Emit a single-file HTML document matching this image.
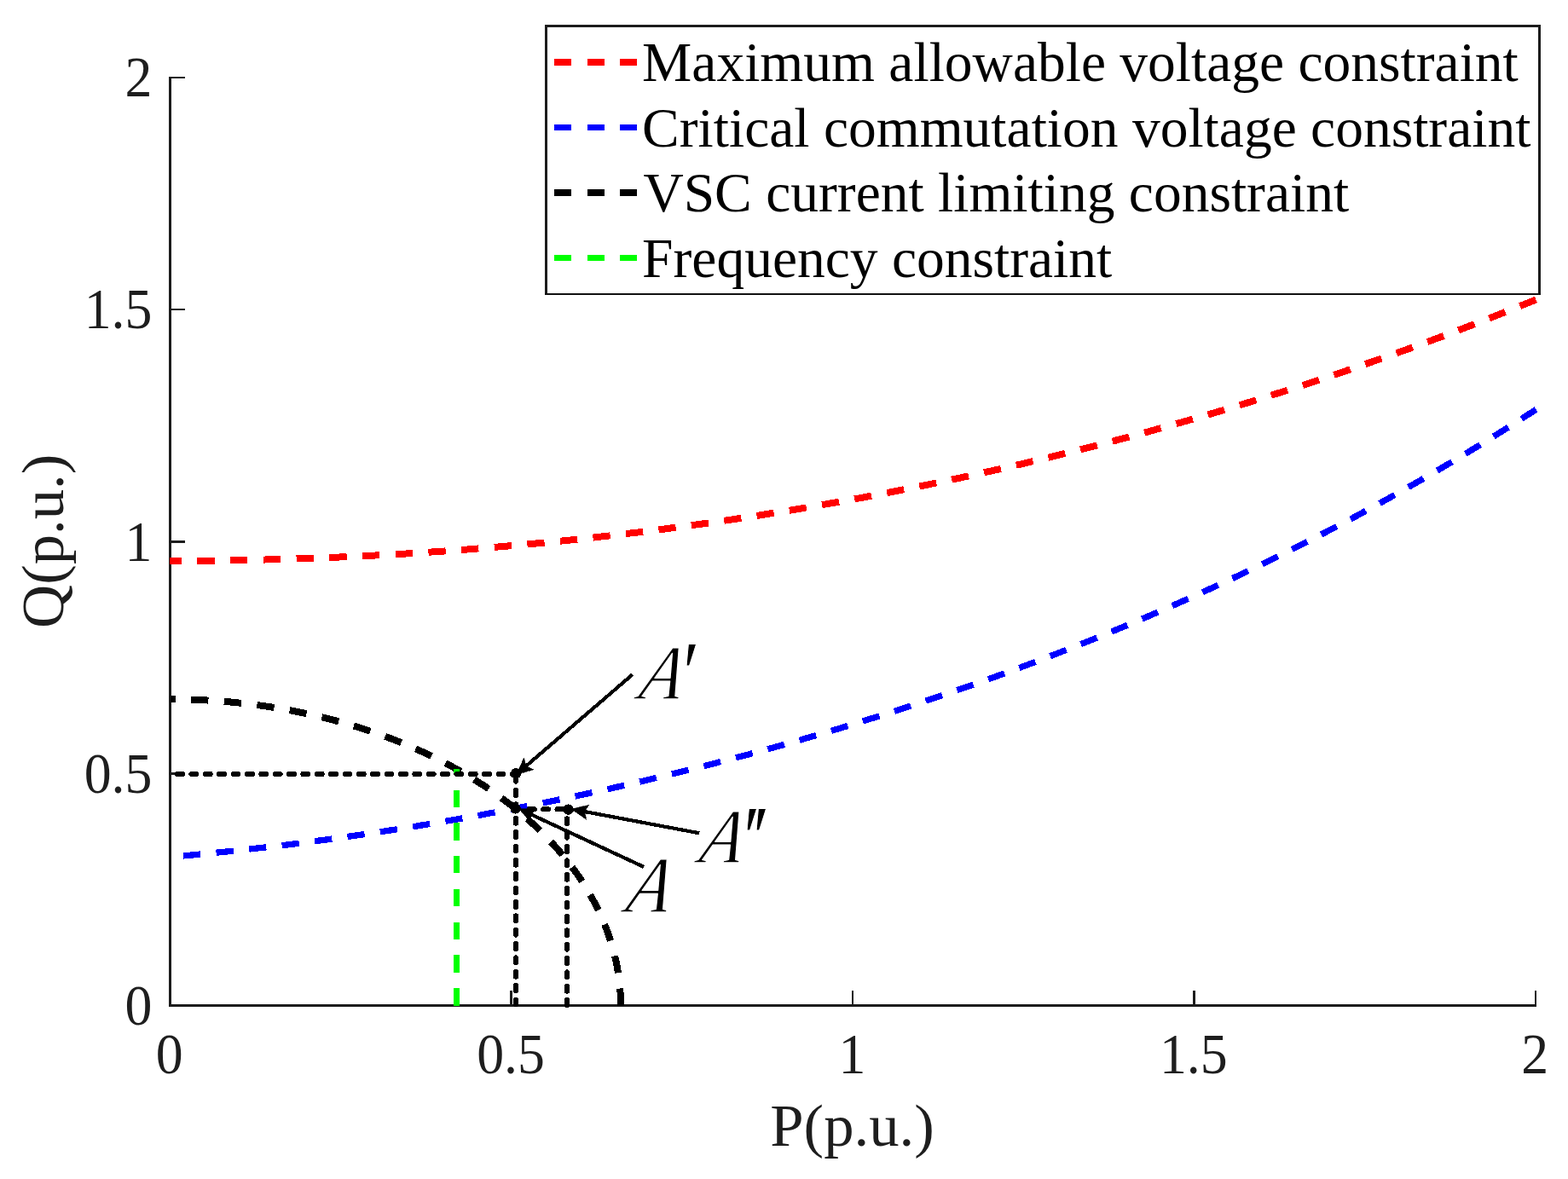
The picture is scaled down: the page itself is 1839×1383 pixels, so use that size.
<!DOCTYPE html>
<html lang="en"><head><meta charset="utf-8"><title>Constraint curves</title>
<style>html,body{margin:0;padding:0;background:#fff}svg{display:block}text{font-family:"Liberation Serif","DejaVu Serif",serif}</style></head><body>
<svg width="1839" height="1383" viewBox="0 0 1839 1383">
<rect width="1839" height="1383" fill="#fff"/>
<g fill="#1c1c1c" shape-rendering="crispEdges">
<rect x="198" y="90" width="3" height="1091"/>
<rect x="198" y="1178" width="1604" height="3"/>
<rect x="201" y="90" width="16" height="2"/>
<rect x="201" y="362" width="16" height="2"/>
<rect x="201" y="634" width="16" height="3"/>
<rect x="201" y="906" width="16" height="3"/>
<rect x="598" y="1162" width="3" height="16"/>
<rect x="999" y="1162" width="2" height="16"/>
<rect x="1399" y="1162" width="3" height="16"/>
<rect x="1800" y="1162" width="2" height="16"/>
</g>
<g fill="none" stroke-width="8.0" stroke-dasharray="20.3 18.46" shape-rendering="crispEdges">
<path d="M198.6,657.9 L206.7,657.9 L214.7,657.9 L222.8,657.8 L230.8,657.8 L238.9,657.7 L246.9,657.6 L255.0,657.5 L263.1,657.4 L271.1,657.3 L279.2,657.2 L287.2,657.0 L295.3,656.9 L303.3,656.7 L311.4,656.5 L319.5,656.3 L327.5,656.1 L335.6,655.8 L343.6,655.6 L351.7,655.3 L359.7,655.0 L367.8,654.8 L375.9,654.5 L383.9,654.1 L392.0,653.8 L400.0,653.4 L408.1,653.1 L416.1,652.7 L424.2,652.3 L432.3,651.9 L440.3,651.5 L448.4,651.1 L456.4,650.6 L464.5,650.1 L472.5,649.7 L480.6,649.2 L488.7,648.7 L496.7,648.1 L504.8,647.6 L512.8,647.1 L520.9,646.5 L528.9,645.9 L537.0,645.3 L545.1,644.7 L553.1,644.1 L561.2,643.4 L569.2,642.8 L577.3,642.1 L585.3,641.4 L593.4,640.7 L601.5,640.0 L609.5,639.3 L617.6,638.6 L625.6,637.8 L633.7,637.0 L641.8,636.3 L649.8,635.4 L657.9,634.6 L665.9,633.8 L674.0,633.0 L682.0,632.1 L690.1,631.2 L698.2,630.3 L706.2,629.4 L714.3,628.5 L722.3,627.6 L730.4,626.6 L738.4,625.6 L746.5,624.7 L754.6,623.7 L762.6,622.6 L770.7,621.6 L778.7,620.6 L786.8,619.5 L794.8,618.4 L802.9,617.3 L811.0,616.2 L819.0,615.1 L827.1,614.0 L835.1,612.8 L843.2,611.7 L851.2,610.5 L859.3,609.3 L867.4,608.1 L875.4,606.8 L883.5,605.6 L891.5,604.3 L899.6,603.0 L907.6,601.7 L915.7,600.4 L923.8,599.1 L931.8,597.8 L939.9,596.4 L947.9,595.0 L956.0,593.6 L964.0,592.2 L972.1,590.8 L980.2,589.4 L988.2,587.9 L996.3,586.5 L1004.3,585.0 L1012.4,583.5 L1020.4,582.0 L1028.5,580.4 L1036.6,578.9 L1044.6,577.3 L1052.7,575.7 L1060.7,574.1 L1068.8,572.5 L1076.8,570.9 L1084.9,569.2 L1093.0,567.5 L1101.0,565.9 L1109.1,564.2 L1117.1,562.4 L1125.2,560.7 L1133.2,559.0 L1141.3,557.2 L1149.4,555.4 L1157.4,553.6 L1165.5,551.8 L1173.5,550.0 L1181.6,548.1 L1189.6,546.2 L1197.7,544.4 L1205.8,542.5 L1213.8,540.5 L1221.9,538.6 L1229.9,536.6 L1238.0,534.7 L1246.0,532.7 L1254.1,530.7 L1262.2,528.7 L1270.2,526.6 L1278.3,524.6 L1286.3,522.5 L1294.4,520.4 L1302.4,518.3 L1310.5,516.1 L1318.6,514.0 L1326.6,511.8 L1334.7,509.7 L1342.7,507.5 L1350.8,505.2 L1358.8,503.0 L1366.9,500.8 L1375.0,498.5 L1383.0,496.2 L1391.1,493.9 L1399.1,491.6 L1407.2,489.2 L1415.3,486.9 L1423.3,484.5 L1431.4,482.1 L1439.4,479.7 L1447.5,477.2 L1455.5,474.8 L1463.6,472.3 L1471.7,469.8 L1479.7,467.3 L1487.8,464.8 L1495.8,462.2 L1503.9,459.7 L1511.9,457.1 L1520.0,454.5 L1528.1,451.9 L1536.1,449.2 L1544.2,446.6 L1552.2,443.9 L1560.3,441.2 L1568.3,438.5 L1576.4,435.8 L1584.5,433.0 L1592.5,430.2 L1600.6,427.4 L1608.6,424.6 L1616.7,421.8 L1624.7,419.0 L1632.8,416.1 L1640.9,413.2 L1648.9,410.3 L1657.0,407.4 L1665.0,404.4 L1673.1,401.4 L1681.1,398.5 L1689.2,395.5 L1697.3,392.4 L1705.3,389.4 L1713.4,386.3 L1721.4,383.2 L1729.5,380.1 L1737.5,377.0 L1745.6,373.9 L1753.7,370.7 L1761.7,367.5 L1769.8,364.3 L1777.8,361.1 L1785.9,357.8 L1793.9,354.6 L1802.0,351.3" stroke="#f00" stroke-dashoffset="6.0"/>
<path d="M215.0,1003.9 L223.0,1003.2 L230.9,1002.4 L238.9,1001.7 L246.9,1000.9 L254.9,1000.1 L262.8,999.3 L270.8,998.4 L278.8,997.6 L286.8,996.7 L294.7,995.8 L302.7,994.9 L310.7,994.0 L318.7,993.1 L326.6,992.1 L334.6,991.2 L342.6,990.2 L350.6,989.2 L358.5,988.1 L366.5,987.1 L374.5,986.0 L382.5,985.0 L390.4,983.9 L398.4,982.8 L406.4,981.6 L414.4,980.5 L422.3,979.3 L430.3,978.2 L438.3,977.0 L446.3,975.8 L454.2,974.5 L462.2,973.3 L470.2,972.0 L478.2,970.8 L486.1,969.5 L494.1,968.1 L502.1,966.8 L510.1,965.5 L518.0,964.1 L526.0,962.7 L534.0,961.3 L542.0,959.9 L549.9,958.5 L557.9,957.1 L565.9,955.6 L573.9,954.1 L581.8,952.6 L589.8,951.1 L597.8,949.6 L605.8,948.0 L613.7,946.5 L621.7,944.9 L629.7,943.3 L637.7,941.7 L645.6,940.1 L653.6,938.4 L661.6,936.7 L669.6,935.1 L677.5,933.4 L685.5,931.7 L693.5,929.9 L701.5,928.2 L709.4,926.4 L717.4,924.6 L725.4,922.8 L733.4,921.0 L741.3,919.2 L749.3,917.3 L757.3,915.4 L765.3,913.5 L773.2,911.6 L781.2,909.7 L789.2,907.8 L797.2,905.8 L805.1,903.8 L813.1,901.8 L821.1,899.8 L829.1,897.8 L837.0,895.7 L845.0,893.6 L853.0,891.6 L861.0,889.5 L868.9,887.3 L876.9,885.2 L884.9,883.0 L892.9,880.8 L900.8,878.6 L908.8,876.4 L916.8,874.2 L924.8,871.9 L932.7,869.7 L940.7,867.4 L948.7,865.0 L956.7,862.7 L964.6,860.4 L972.6,858.0 L980.6,855.6 L988.6,853.2 L996.5,850.8 L1004.5,848.3 L1012.5,845.8 L1020.5,843.3 L1028.4,840.8 L1036.4,838.3 L1044.4,835.8 L1052.4,833.2 L1060.3,830.6 L1068.3,828.0 L1076.3,825.3 L1084.3,822.7 L1092.2,820.0 L1100.2,817.3 L1108.2,814.6 L1116.2,811.9 L1124.1,809.1 L1132.1,806.3 L1140.1,803.5 L1148.1,800.7 L1156.0,797.8 L1164.0,795.0 L1172.0,792.1 L1180.0,789.2 L1187.9,786.2 L1195.9,783.3 L1203.9,780.3 L1211.9,777.3 L1219.8,774.3 L1227.8,771.2 L1235.8,768.1 L1243.8,765.0 L1251.7,761.9 L1259.7,758.8 L1267.7,755.6 L1275.7,752.4 L1283.6,749.2 L1291.6,746.0 L1299.6,742.7 L1307.6,739.4 L1315.5,736.1 L1323.5,732.7 L1331.5,729.4 L1339.5,726.0 L1347.4,722.6 L1355.4,719.1 L1363.4,715.7 L1371.4,712.2 L1379.3,708.7 L1387.3,705.1 L1395.3,701.5 L1403.3,697.9 L1411.2,694.3 L1419.2,690.7 L1427.2,687.0 L1435.2,683.3 L1443.1,679.6 L1451.1,675.8 L1459.1,672.0 L1467.1,668.2 L1475.0,664.3 L1483.0,660.5 L1491.0,656.6 L1499.0,652.6 L1506.9,648.7 L1514.9,644.7 L1522.9,640.7 L1530.9,636.6 L1538.8,632.6 L1546.8,628.4 L1554.8,624.3 L1562.8,620.1 L1570.7,615.9 L1578.7,611.7 L1586.7,607.5 L1594.7,603.2 L1602.6,598.8 L1610.6,594.5 L1618.6,590.1 L1626.6,585.7 L1634.5,581.2 L1642.5,576.8 L1650.5,572.2 L1658.5,567.7 L1666.4,563.1 L1674.4,558.5 L1682.4,553.9 L1690.4,549.2 L1698.3,544.5 L1706.3,539.7 L1714.3,534.9 L1722.3,530.1 L1730.2,525.3 L1738.2,520.4 L1746.2,515.5 L1754.2,510.5 L1762.1,505.5 L1770.1,500.5 L1778.1,495.4 L1786.1,490.3 L1794.0,485.2 L1802.0,480.0" stroke="#00f" stroke-width="7.3"/>
<path d="M199.5,820.3 L203.7,820.3 L207.8,820.3 L212.0,820.4 L216.2,820.5 L220.4,820.6 L224.5,820.7 L228.7,820.8 L232.9,821.0 L237.0,821.2 L241.2,821.4 L245.3,821.6 L249.5,821.9 L253.6,822.2 L257.8,822.5 L261.9,822.8 L266.1,823.2 L270.2,823.5 L274.3,823.9 L278.5,824.3 L282.6,824.8 L286.7,825.2 L290.8,825.7 L294.9,826.2 L299.0,826.7 L303.1,827.3 L307.2,827.8 L311.3,828.4 L315.4,829.0 L319.4,829.7 L323.5,830.3 L327.5,831.0 L331.6,831.7 L335.6,832.4 L339.6,833.2 L343.7,833.9 L347.7,834.7 L351.7,835.5 L355.7,836.3 L359.6,837.2 L363.6,838.1 L367.6,838.9 L371.5,839.9 L375.5,840.8 L379.4,841.7 L383.3,842.7 L387.2,843.7 L391.1,844.7 L395.0,845.8 L398.9,846.8 L402.7,847.9 L406.6,849.0 L410.4,850.1 L414.2,851.3 L418.0,852.4 L421.8,853.6 L425.6,854.8 L429.3,856.0 L433.1,857.3 L436.8,858.5 L440.5,859.8 L444.3,861.1 L447.9,862.5 L451.6,863.8 L455.3,865.2 L458.9,866.5 L462.5,867.9 L466.2,869.4 L469.7,870.8 L473.3,872.3 L476.9,873.7 L480.4,875.2 L483.9,876.8 L487.5,878.3 L490.9,879.9 L494.4,881.4 L497.9,883.0 L501.3,884.6 L504.7,886.3 L508.1,887.9 L511.5,889.6 L514.8,891.2 L518.2,892.9 L521.5,894.7 L524.8,896.4 L528.1,898.2 L531.3,899.9 L534.6,901.7 L537.8,903.5 L541.0,905.3 L544.2,907.2 L547.3,909.0 L550.4,910.9 L553.5,912.8 L556.6,914.7 L559.7,916.6 L562.7,918.6 L565.8,920.5 L568.8,922.5 L571.7,924.5 L574.7,926.5 L577.6,928.5 L580.5,930.6 L583.4,932.6 L586.2,934.7 L589.1,936.8 L591.9,938.9 L594.7,941.0 L597.4,943.1 L600.1,945.2 L602.9,947.4 L605.5,949.6 L608.2,951.8 L610.8,954.0 L613.4,956.2 L616.0,958.4 L618.6,960.6 L621.1,962.9 L623.6,965.2 L626.1,967.4 L628.5,969.7 L631.0,972.1 L633.3,974.4 L635.7,976.7 L638.1,979.1 L640.4,981.4 L642.7,983.8 L644.9,986.2 L647.1,988.6 L649.4,991.0 L651.5,993.4 L653.7,995.8 L655.8,998.3 L657.9,1000.7 L659.9,1003.2 L662.0,1005.7 L664.0,1008.1 L666.0,1010.6 L667.9,1013.1 L669.8,1015.7 L671.7,1018.2 L673.6,1020.7 L675.4,1023.3 L677.2,1025.8 L679.0,1028.4 L680.7,1031.0 L682.4,1033.6 L684.1,1036.2 L685.7,1038.8 L687.4,1041.4 L689.0,1044.0 L690.5,1046.6 L692.0,1049.3 L693.5,1051.9 L695.0,1054.6 L696.4,1057.2 L697.8,1059.9 L699.2,1062.6 L700.6,1065.3 L701.9,1068.0 L703.1,1070.7 L704.4,1073.4 L705.6,1076.1 L706.8,1078.8 L708.0,1081.5 L709.1,1084.3 L710.2,1087.0 L711.2,1089.7 L712.3,1092.5 L713.2,1095.2 L714.2,1098.0 L715.1,1100.8 L716.0,1103.5 L716.9,1106.3 L717.7,1109.1 L718.5,1111.9 L719.3,1114.6 L720.0,1117.4 L720.8,1120.2 L721.4,1123.0 L722.1,1125.8 L722.7,1128.6 L723.2,1131.4 L723.8,1134.3 L724.3,1137.1 L724.8,1139.9 L725.2,1142.7 L725.6,1145.5 L726.0,1148.4 L726.3,1151.2 L726.7,1154.0 L726.9,1156.8 L727.2,1159.7 L727.4,1162.5 L727.6,1165.3 L727.7,1168.2 L727.8,1171.0 L727.9,1173.8 L728.0,1176.7 L728.0,1179.5" stroke="#000" stroke-width="8" stroke-dashoffset="14.1"/>
<path d="M535.4,1179.5 L535.4,902" stroke="#0f0" stroke-width="7"/>
</g>
<g fill="none" stroke="#000" stroke-width="6.0" stroke-dasharray="6 10.37" stroke-linecap="round" shape-rendering="crispEdges">
<path d="M208,908 L604.8,908"/>
<path d="M605,910.6 L605,1179.5"/>
<path d="M620.7,949.3 L666,949.3"/>
<path d="M665,960.3 L665,1179.5"/>
</g>
<g fill="#000" shape-rendering="crispEdges"><circle cx="605" cy="907.4" r="6.2"/><circle cx="604.6" cy="948.4" r="6.2"/><circle cx="666.7" cy="949.6" r="6.2"/></g>
<g fill="#1e1e1e" font-size="65.5">
<text transform="translate(178.5,113.3) scale(0.975,1.035)" text-anchor="end">2</text>
<text transform="translate(178.5,385.4) scale(0.975,1.035)" text-anchor="end">1.5</text>
<text transform="translate(178.5,657.5) scale(0.975,1.035)" text-anchor="end">1</text>
<text transform="translate(178.5,929.7) scale(0.975,1.035)" text-anchor="end">0.5</text>
<text transform="translate(178.5,1201.8) scale(0.975,1.035)" text-anchor="end">0</text>
<text transform="translate(198.7,1259.2) scale(0.975,1.035)" text-anchor="middle">0</text>
<text transform="translate(599.1,1259.2) scale(0.975,1.035)" text-anchor="middle">0.5</text>
<text transform="translate(999.5,1259.2) scale(0.975,1.035)" text-anchor="middle">1</text>
<text transform="translate(1399.8,1259.2) scale(0.975,1.035)" text-anchor="middle">1.5</text>
<text transform="translate(1800.2,1259.2) scale(0.975,1.035)" text-anchor="middle">2</text>
</g>
<g fill="#1e1e1e" font-size="70.7">
<text x="999.5" y="1344" text-anchor="middle">P(p.u.)</text>
<text transform="translate(74.0,634.8) rotate(-90)" text-anchor="middle">Q(p.u.)</text>
</g>
<rect x="639" y="29" width="1168" height="317" fill="#fff"/>
<g fill="#1c1c1c" shape-rendering="crispEdges"><rect x="639" y="29" width="1168" height="3"/><rect x="639" y="29" width="3" height="317"/><rect x="1804" y="29" width="3" height="317"/><rect x="639" y="344" width="1168" height="2" fill="#111"/></g>
<g fill="none" stroke-dasharray="20.3 18.3" shape-rendering="crispEdges">
<path d="M650,73.0 L747,73.0" stroke="#f00" stroke-width="8"/>
<path d="M650,149.5 L747,149.5" stroke="#00f" stroke-width="7"/>
<path d="M650,226.0 L747,226.0" stroke="#000" stroke-width="8"/>
<path d="M650,302.5 L747,302.5" stroke="#0f0" stroke-width="7"/>
</g>
<g fill="#000" font-size="65.5">
<text x="753.1" y="95.0">Maximum allowable voltage constraint</text>
<text x="753.1" y="171.5">Critical commutation voltage constraint</text>
<text x="754.4" y="248.0">VSC current limiting constraint</text>
<text x="753.1" y="324.5">Frequency constraint</text>
</g>
<g shape-rendering="crispEdges">
<path d="M742.0,791.1 L617.1,898.5" stroke="#000" stroke-width="4.2" fill="none"/><path d="M605.5,908.5 L614.4,889.4 L617.1,898.5 L625.7,902.6Z" fill="#000" stroke="#000" stroke-width="0.6" stroke-linejoin="miter"/>
<path d="M820.3,977.3 L685.5,952.0" stroke="#000" stroke-width="4.2" fill="none"/><path d="M670.4,949.2 L690.9,944.2 L685.5,952.0 L687.7,961.3Z" fill="#000" stroke="#000" stroke-width="0.6" stroke-linejoin="miter"/>
<path d="M755.0,1016.9 L622.7,955.3" stroke="#000" stroke-width="4.2" fill="none"/><path d="M608.8,948.8 L629.9,949.0 L622.7,955.3 L622.5,964.8Z" fill="#000" stroke="#000" stroke-width="0.6" stroke-linejoin="miter"/>
</g>
<g fill="#000" font-style="italic">
<text transform="translate(746.96,820.2) skewX(-14) scale(0.875,1)" font-size="91.0" stroke="#fff" stroke-width="1.3" stroke-linejoin="round">A</text><text transform="translate(794.42,825.51) scale(1,1.14)" font-size="95.5" stroke="#fff" stroke-width="0.9" stroke-linejoin="round">′</text>
<text transform="translate(817.76,1012.3) skewX(-14) scale(0.875,1)" font-size="91.0" stroke="#fff" stroke-width="1.3" stroke-linejoin="round">A</text><text transform="translate(865.42,1018.81) scale(1,1.14)" font-size="95.5" stroke="#fff" stroke-width="0.9" stroke-linejoin="round">′</text><text transform="translate(876.52,1018.81) scale(1,1.14)" font-size="95.5" stroke="#fff" stroke-width="0.9" stroke-linejoin="round">′</text>
<text transform="translate(731.84,1069.5) skewX(-14) scale(0.862,1)" font-size="94.2" stroke="#fff" stroke-width="1.3" stroke-linejoin="round">A</text>
</g>
</svg></body></html>
